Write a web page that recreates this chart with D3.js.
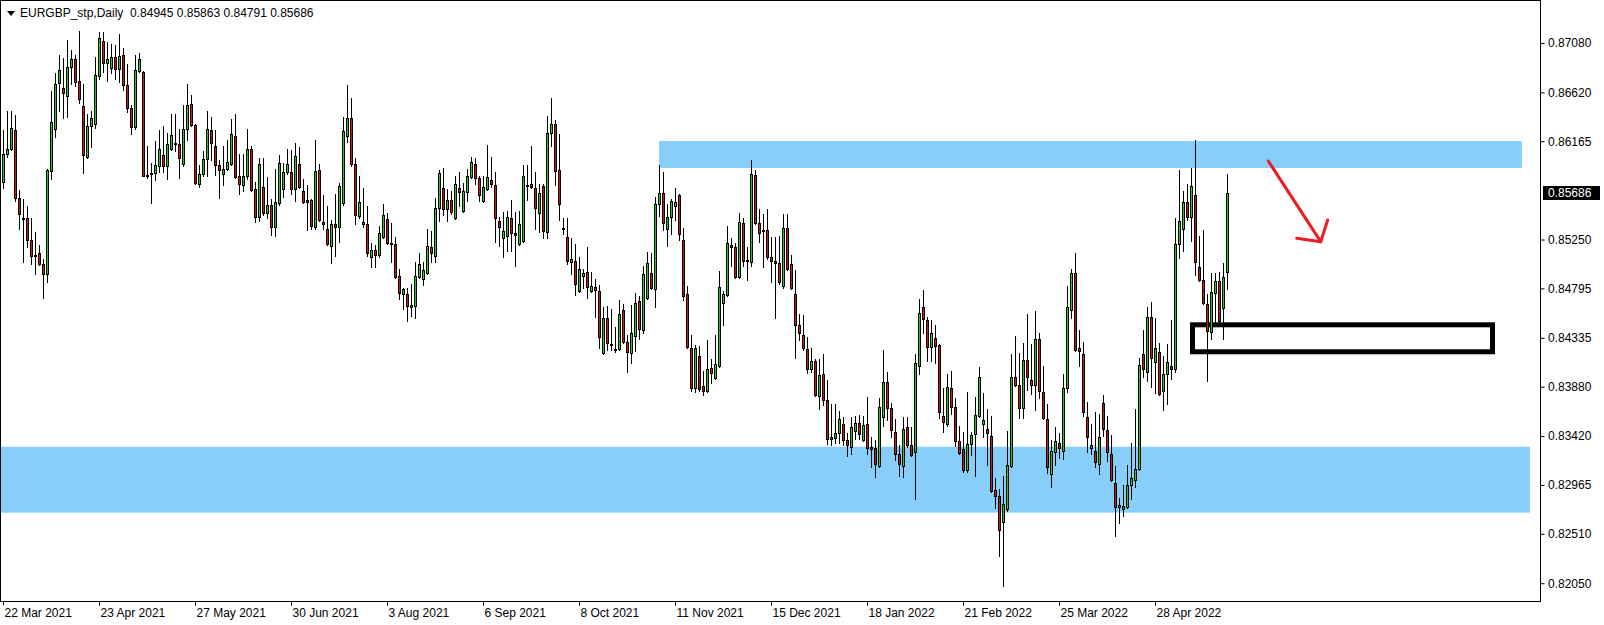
<!DOCTYPE html>
<html><head><meta charset="utf-8">
<script src="https://cdn.jsdelivr.net/npm/d3@7"></script>
<style>html,body{margin:0;padding:0;background:#fff;overflow:hidden}svg{display:block}</style>
</head><body><svg id="c" width="1604" height="625"></svg>
<script>
const symbolTitle = "EURGBP_stp,Daily";
const opens = [
.8579,.8605,.8609,.8627,.8564,.8545,.8545,.8525,.8511,.8512,
.8502,.8493,.8589,.8628,.8671,.8666,.8659,.8686,.8693,.8673,
.8649,.8602,.8631,.8633,.8677,.8710,.8689,.8685,.8695,.8684,
.8697,.8669,.8647,.8630,.8682,.8681,.8585,.8586,.8587,.8593,
.8604,.8593,.8609,.8614,.8614,.8595,.8628,.8651,.8632,.8577,
.8586,.8600,.8627,.8612,.8594,.8586,.8591,.8595,.8621,.8584,
.8576,.8584,.8609,.8572,.8546,.8574,.8550,.8557,.8537,.8559,
.8572,.8588,.8588,.8572,.8595,.8570,.8562,.8562,.8537,.8590,
.8541,.8535,.8519,.8539,.8537,.8559,.8621,.8638,.8595,.8547,
.8541,.8539,.8509,.8515,.8511,.8527,.8544,.8522,.8521,.8491,
.8474,.8474,.8462,.8463,.8490,.8488,.8494,.8518,.8510,.8554,
.8573,.8553,.8562,.8545,.8573,.8552,.8569,.8583,.8595,.8582,
.8561,.8572,.8580,.8576,.8542,.8526,.8528,.8545,.8531,.8521,
.8524,.8576,.8577,.8573,.8550,.8575,.8532,.8624,.8633,.8590,
.8536,.8527,.8504,.8505,.8477,.8491,.8495,.8477,.8481,.8477,
.8419,.8452,.8428,.8423,.8423,.8459,.8430,.8419,.8435,.8468,
.8441,.8471,.8494,.8479,.8558,.8568,.8535,.8546,.8556,.8566,
.8525,.8474,.8424,.8387,.8417,.8389,.8384,.8405,.8396,.8407,
.8466,.8473,.8520,.8518,.8490,.8540,.8506,.8504,.8585,.8540,
.8534,.8534,.8509,.8505,.8503,.8482,.8536,.8502,.8474,.8445,
.8436,.8423,.8404,.8412,.8379,.8400,.8376,.8339,.8340,.8345,
.8353,.8338,.8332,.8347,.8354,.8338,.8353,.8332,.8331,.8314,
.8360,.8392,.8368,.8346,.8325,.8314,.8350,.8334,.8327,.8407,
.8462,.8450,.8425,.8433,.8427,.8361,.8353,.8387,.8369,.8337,
.8330,.8310,.8335,.8344,.8361,.8353,.8349,.8342,.8292,.8286,
.8262,.8274,.8314,.8397,.8390,.8368,.8413,.8394,.8390,.8432,
.8383,.8358,.8307,.8327,.8336,.8328,.8387,.8459,.8494,.8424,
.8418,.8360,.8331,.8328,.8316,.8373,.8348,.8325,.8298,.8276,
.8274,.8276,.8296,.8301,.8311,.8418,.8402,.8453,.8411,.8420,
.8384,.8400,.8407,.8404,.8521,.8535,.8560,.8546,.8566,.8499,
.8487,.8465,.8439,.8475,.8486,.8461,.84945];
const highs = [
.8627,.8645,.8645,.8641,.8571,.8563,.8556,.8545,.8532,.8520,
.8507,.8591,.8663,.8680,.8697,.8694,.8711,.8701,.8697,.8719,
.8670,.8642,.8645,.8695,.8718,.8718,.8709,.8707,.8706,.8716,
.8703,.8688,.8650,.8697,.8699,.8682,.8612,.8596,.8617,.8627,
.8631,.8624,.8642,.8642,.8628,.8650,.8670,.8660,.8633,.8594,
.8607,.8645,.8639,.8627,.8599,.8612,.8618,.8637,.8642,.8605,
.8605,.8628,.8612,.8579,.8601,.8601,.8583,.8563,.8591,.8604,
.8596,.8609,.8608,.8615,.8611,.8581,.8576,.8563,.8618,.8595,
.8566,.8556,.8543,.8567,.8578,.8639,.8669,.8657,.8601,.8584,
.8573,.8556,.8522,.8520,.8538,.8558,.8550,.8540,.8527,.8498,
.8480,.8480,.8484,.8504,.8512,.8504,.8535,.8533,.8564,.8590,
.8592,.8572,.8570,.8584,.8588,.8578,.8591,.8602,.8601,.8584,
.8584,.8613,.8602,.8588,.8546,.8551,.8552,.8562,.8551,.8552,
.8594,.8594,.8612,.8588,.8577,.8577,.8640,.8657,.8636,.8623,
.8545,.8545,.8526,.8521,.8509,.8498,.8518,.8495,.8488,.8483,
.8462,.8463,.8460,.8444,.8469,.8465,.8436,.8464,.8475,.8472,
.8500,.8513,.8512,.8565,.8594,.8588,.8558,.8563,.8573,.8567,
.8536,.8482,.8436,.8427,.8426,.8403,.8431,.8414,.8436,.8496,
.8477,.8538,.8526,.8522,.8550,.8545,.8518,.8599,.8590,.8553,
.8549,.8553,.8527,.8527,.8528,.8549,.8549,.8511,.8497,.8456,
.8455,.8434,.8424,.8414,.8414,.8418,.8394,.8372,.8372,.8365,
.8360,.8345,.8360,.8361,.8362,.8361,.8378,.8341,.8338,.8377,
.8422,.8402,.8373,.8358,.8334,.8360,.8360,.8350,.8418,.8470,
.8478,.8453,.8450,.8445,.8428,.8387,.8400,.8403,.8377,.8351,
.8346,.8383,.8346,.8378,.8406,.8382,.8367,.8361,.8303,.8293,
.8305,.8347,.8418,.8435,.8419,.8429,.8456,.8428,.8458,.8438,
.8407,.8372,.8338,.8350,.8345,.8400,.8482,.8498,.8512,.8441,
.8430,.8374,.8353,.8364,.8363,.8380,.8361,.8343,.8314,.8284,
.8296,.8315,.8336,.8367,.8415,.8441,.8462,.8467,.8452,.8429,
.8417,.8428,.8450,.8545,.8590,.8570,.8577,.8592,.8618,.8528,
.8534,.8474,.8494,.8494,.8495,.8503,.85863];
const lows = [
.8573,.8602,.8608,.8561,.8535,.8504,.8518,.8502,.8493,.8501,
.8471,.8485,.8581,.8620,.8645,.8638,.8639,.8670,.8668,.8652,
.8587,.8601,.8611,.8629,.8674,.8681,.8673,.8680,.8674,.8672,
.8664,.8644,.8623,.8628,.8681,.8584,.8582,.8559,.8580,.8588,
.8588,.8581,.8608,.8607,.8582,.8593,.8618,.8631,.8577,.8574,
.8584,.8584,.8599,.8585,.8564,.8576,.8590,.8594,.8582,.8567,
.8570,.8581,.8570,.8541,.8542,.8548,.8545,.8529,.8528,.8557,
.8565,.8586,.8567,.8561,.8573,.8559,.8534,.8535,.8535,.8542,
.8535,.8520,.8503,.8510,.8523,.8557,.8616,.8593,.8539,.8545,
.8537,.8510,.8499,.8499,.8509,.8526,.8521,.8504,.8489,.8470,
.8460,.8449,.8454,.8452,.8489,.8483,.8493,.8504,.8504,.8542,
.8548,.8542,.8549,.8544,.8556,.8551,.8561,.8582,.8577,.8561,
.8560,.8571,.8574,.8523,.8519,.8509,.8514,.8514,.8500,.8520,
.8523,.8562,.8573,.8535,.8532,.8526,.8526,.8612,.8576,.8543,
.8530,.8502,.8493,.8473,.8476,.8480,.8471,.8476,.8453,.8424,
.8418,.8422,.8422,.8420,.8422,.8429,.8402,.8410,.8421,.8432,
.8438,.8470,.8479,.8462,.8547,.8534,.8519,.8530,.8543,.8525,
.8469,.8424,.8384,.8383,.8384,.8380,.8383,.8391,.8395,.8406,
.8445,.8472,.8500,.8489,.8489,.8500,.8487,.8500,.8539,.8523,
.8499,.8507,.8485,.8452,.8484,.8480,.8497,.8479,.8415,.8431,
.8422,.8401,.8402,.8379,.8367,.8371,.8335,.8334,.8336,.8336,
.8334,.8323,.8325,.8339,.8339,.8337,.8325,.8313,.8304,.8313,
.8351,.8357,.8341,.8320,.8305,.8304,.8332,.8323,.8283,.8400,
.8438,.8412,.8412,.8410,.8359,.8346,.8351,.8363,.8333,.8325,
.8309,.8309,.8324,.8305,.8360,.8341,.8315,.8290,.8275,.8230,
.8202,.8272,.8313,.8389,.8359,.8359,.8385,.8381,.8366,.8377,
.8358,.8308,.8295,.8315,.8322,.8321,.8383,.8452,.8421,.8407,
.8361,.8327,.8325,.8313,.8307,.8342,.8319,.8300,.8249,.8261,
.8268,.8275,.8283,.8295,.8310,.8397,.8393,.8388,.8382,.8380,
.8366,.8372,.8395,.8402,.8508,.8514,.8543,.8524,.8492,.8486,
.8465,.8393,.8432,.8445,.8448,.8432,.84791];
const closes = [
.8605,.8609,.8629,.8564,.8549,.8544,.8525,.8510,.8510,.8502,
.8493,.8590,.8634,.8670,.8683,.8661,.8686,.8693,.8672,.8656,
.8604,.8631,.8638,.8678,.8713,.8689,.8693,.8695,.8684,.8696,
.8669,.8647,.8630,.8683,.8693,.8584,.8584,.8587,.8594,.8609,
.8593,.8614,.8622,.8615,.8601,.8628,.8650,.8632,.8578,.8586,
.8600,.8628,.8615,.8594,.8590,.8591,.8597,.8623,.8583,.8577,
.8584,.8609,.8571,.8546,.8595,.8550,.8557,.8537,.8560,.8596,
.8588,.8595,.8572,.8603,.8574,.8560,.8560,.8538,.8589,.8543,
.8539,.8521,.8539,.8537,.8575,.8626,.8638,.8595,.8548,.8560,
.8539,.8512,.8515,.8511,.8531,.8548,.8522,.8521,.8490,.8475,
.8479,.8463,.8464,.8491,.8502,.8497,.8519,.8512,.8554,.8587,
.8553,.8562,.8551,.8577,.8569,.8570,.8584,.8597,.8582,.8566,
.8574,.8583,.8577,.8545,.8537,.8533,.8546,.8531,.8529,.8539,
.8584,.8575,.8574,.8554,.8568,.8533,.8624,.8633,.8589,.8558,
.8535,.8505,.8507,.8484,.8498,.8494,.8481,.8482,.8478,.8434,
.8452,.8429,.8427,.8422,.8456,.8430,.8420,.8438,.8466,.8442,
.8493,.8503,.8480,.8558,.8568,.8540,.8546,.8561,.8560,.8530,
.8472,.8425,.8387,.8424,.8386,.8384,.8404,.8401,.8409,.8481,
.8474,.8522,.8518,.8490,.8541,.8505,.8505,.8586,.8540,.8531,
.8533,.8509,.8505,.8503,.8485,.8536,.8498,.8480,.8445,.8438,
.8424,.8404,.8412,.8380,.8399,.8376,.8339,.8341,.8345,.8358,
.8338,.8334,.8350,.8354,.8344,.8352,.8331,.8330,.8316,.8369,
.8392,.8368,.8348,.8325,.8316,.8349,.8334,.8324,.8410,.8457,
.8451,.8425,.8438,.8426,.8364,.8355,.8388,.8369,.8337,.8326,
.8310,.8335,.8343,.8362,.8397,.8357,.8345,.8291,.8286,.8255,
.8279,.8315,.8397,.8390,.8368,.8413,.8397,.8390,.8432,.8384,
.8359,.8313,.8328,.8337,.8331,.8387,.8462,.8494,.8422,.8421,
.8364,.8341,.8334,.8318,.8341,.8349,.8327,.8301,.8276,.8278,
.8277,.8296,.8303,.8311,.8408,.8404,.8453,.8415,.8424,.8381,
.8400,.8411,.8404,.8521,.8542,.8560,.8546,.8575,.8504,.8487,
.8466,.8440,.8476,.8486,.8449,.8490,.85686];

const dateTickBars = [0,24,48,72,96,120,144,168,192,216,240,264,288];
const dateTickLabels = ["22 Mar 2021","23 Apr 2021","27 May 2021","30 Jun 2021","3 Aug 2021","6 Sep 2021","8 Oct 2021","11 Nov 2021","15 Dec 2021","18 Jan 2022","21 Feb 2022","25 Mar 2022","28 Apr 2022"];
const priceTicks = [0.87080,0.86620,0.86165,0.85250,0.84795,0.84335,0.83880,0.83420,0.82965,0.82510,0.82050];
const lastPrice = 0.85686;

// annotation objects (bar index / price)
const zoneFromBar = [163.9, -0.9];
const zoneToBar = [379.6, 381.6];
const zoneTopPrice = [0.86167, 0.83321];
const zoneBottomPrice = [0.85916, 0.82707];
const boxBars = [297.25, 372.25];
const boxPrices = [0.84456, 0.84205];
const arrowBars = [316.2, 329.3, 323.3, 331.05];
const arrowPrices = [0.85981, 0.85230, 0.85261, 0.85432];

const W = 1604, H = 625, plotRight = 1540.5, plotBottom = 601;
const FONT = "'Liberation Sans', Arial, sans-serif";
const svg = d3.select("#c");
svg.append("rect").attr("width", W).attr("height", H).attr("fill", "#fff");

const x = d3.scaleLinear().domain([0, 1]).range([3.5, 7.5]);
const y = d3.scaleLinear().domain([0.8748, 0.8748 - 0.0000931 * plotBottom]).range([0, plotBottom]);

svg.append("clipPath").attr("id", "plot").append("rect")
  .attr("x", 1).attr("y", 1).attr("width", plotRight - 1).attr("height", plotBottom - 1);
const plot = svg.append("g").attr("clip-path", "url(#plot)");

// zones
plot.selectAll("rect.zone").data(zoneFromBar.map((d, i) => i)).join("rect")
  .attr("class", "zone")
  .attr("x", i => x(zoneFromBar[i]))
  .attr("width", i => x(zoneToBar[i]) - x(zoneFromBar[i]))
  .attr("y", i => y(zoneTopPrice[i]))
  .attr("height", i => y(zoneBottomPrice[i]) - y(zoneTopPrice[i]))
  .attr("fill", "#87cefa");

// black rectangle
plot.append("rect")
  .attr("x", x(boxBars[0])).attr("width", x(boxBars[1]) - x(boxBars[0]))
  .attr("y", y(boxPrices[0])).attr("height", y(boxPrices[1]) - y(boxPrices[0]))
  .attr("fill", "none").attr("stroke", "#000").attr("stroke-width", 5);

// red arrow
const arrowLine = d3.line().x(d => x(d[0])).y(d => y(d[1]));
const ap = arrowBars.map((b, i) => [b, arrowPrices[i]]);
plot.append("path").attr("d", arrowLine([ap[0], ap[1]]))
  .attr("fill", "none").attr("stroke", "#ee1c24").attr("stroke-width", 3).attr("stroke-linecap", "round");
plot.append("path").attr("d", arrowLine([ap[2], ap[1], ap[3]]))
  .attr("fill", "none").attr("stroke", "#ee1c24").attr("stroke-width", 3).attr("stroke-linecap", "round").attr("stroke-linejoin", "round");

// candles
const candles = opens.map((o, i) => ({ i, o, h: highs[i], l: lows[i], c: closes[i] }));
const cg = plot.append("g").attr("shape-rendering", "crispEdges");
candles.forEach(d => {
  const xc = x(d.i);
  const yh = Math.round(y(d.h)), yl = Math.round(y(d.l));
  const yt = Math.round(y(Math.max(d.o, d.c))), yb = Math.round(y(Math.min(d.o, d.c)));
  cg.append("rect").attr("x", xc - 0.5).attr("width", 1).attr("y", yh).attr("height", Math.max(1, yl - yh + 1)).attr("fill", "#000");
  cg.append("rect").attr("x", xc - 1.5).attr("width", 3).attr("y", yt).attr("height", Math.max(1, yb - yt + 1)).attr("fill", "#000");
  if (yb - yt - 1 > 0) {
    cg.append("rect").attr("x", xc - 0.5).attr("width", 1).attr("y", yt + 1).attr("height", yb - yt - 1)
      .attr("fill", d.c >= d.o ? "#22cc22" : "#d41414");
  }
});

// frame
svg.append("rect").attr("x", 0.5).attr("y", 0.5).attr("width", plotRight - 0.5).attr("height", plotBottom)
  .attr("fill", "none").attr("stroke", "#000").attr("stroke-width", 1).attr("shape-rendering", "crispEdges");

// price axis
const yAxis = d3.axisRight(y).tickValues(priceTicks).tickFormat(d3.format(".5f")).tickSize(4).tickPadding(3.5);
const ya = svg.append("g").attr("transform", `translate(${plotRight},0)`).call(yAxis);
ya.select(".domain").remove();
ya.selectAll("text").attr("font-family", FONT).attr("font-size", 12).attr("fill", "#000");
ya.selectAll("line").attr("stroke", "#000");

// last price label
const yp = y(lastPrice);
svg.append("rect").attr("x", 1543).attr("y", Math.round(yp) - 7).attr("width", 57).attr("height", 14).attr("fill", "#000");
svg.append("text").attr("x", 1548).attr("y", yp).attr("dy", "0.35em").text(d3.format(".5f")(lastPrice))
  .attr("font-family", FONT).attr("font-size", 12).attr("fill", "#fff");

// date axis
const xAxis = d3.axisBottom(x).tickValues(dateTickBars).tickFormat((d, i) => dateTickLabels[i]).tickSize(4).tickPadding(2.5).offset(0);
const xa = svg.append("g").attr("transform", `translate(0,${plotBottom + 0.5})`).call(xAxis);
xa.select(".domain").remove();
xa.selectAll("text").attr("text-anchor", "start").attr("x", 1).attr("font-family", FONT).attr("font-size", 12).attr("fill", "#000");
xa.selectAll("line").attr("stroke", "#000");

// header
svg.append("path").attr("d", "M7,11 L15,11 L11,16 Z").attr("fill", "#000");
const last = opens.length - 1;
const fmt = d3.format(".5f");
svg.append("text").attr("x", 20).attr("y", 17).attr("xml:space", "preserve")
  .attr("font-family", FONT).attr("font-size", 12).attr("fill", "#000")
  .text(`${symbolTitle}  ${fmt(opens[last])} ${fmt(highs[last])} ${fmt(lows[last])} ${fmt(closes[last])}`);
</script>
</body></html>
